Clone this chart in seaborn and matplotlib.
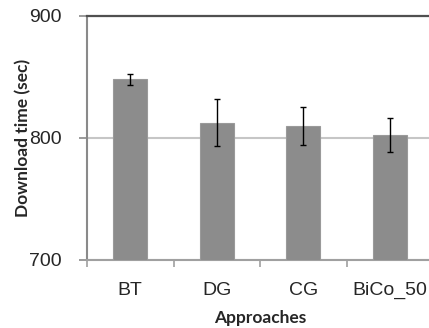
import matplotlib
matplotlib.use("Agg")
import matplotlib.pyplot as plt
import seaborn as sns
import pandas as pd
from matplotlib.ticker import FixedLocator

categories = ["BT", "DG", "CG", "BiCo_50"]
download_time = [848, 812.5, 809.5, 802]
error = [4.7, 19, 15.5, 14]
y_ticks = [700, 800, 900]

sns.set_theme(style="white")
plt.rcParams['font.family'] = ['Liberation Sans', 'DejaVu Sans']

df = pd.DataFrame({"Approach": categories, "Time": download_time})

fig = plt.figure(figsize=(4.29, 3.28), dpi=100)
ax = fig.add_axes([87/429, 1 - 259.7/328, (433.3 - 87)/429, (259.7 - 16)/328])

sns.barplot(data=df, x="Approach", y="Time", color="#8c8c8c", saturation=1,
            width=0.392, edgecolor="#9a9a9a", linewidth=0.8, ax=ax, zorder=3)
ax.errorbar(range(len(categories)), download_time, yerr=error, fmt="none",
            ecolor="black", elinewidth=1.0, capsize=2, capthick=1.0, zorder=4)

ax.set_ylim(700, 900)
ax.set_xlim(-0.5, len(categories) - 0.5)
ax.set_yticks(y_ticks)
ax.yaxis.grid(True, color="#c6c6c6", linewidth=1.5, zorder=0)
ax.set_axisbelow(True)

ax.spines["right"].set_visible(False)
ax.spines["top"].set_color("#505050")
ax.spines["top"].set_linewidth(1.6)
ax.spines["left"].set_color("#8a8a8a")
ax.spines["left"].set_linewidth(1.5)
ax.spines["bottom"].set_color("#a0a0a0")
ax.spines["bottom"].set_linewidth(1.5)

ax.tick_params(axis="y", which="major", direction="out", length=6, width=1.2,
               color="#8a8a8a", labelsize=14, pad=12, left=True)
ax.tick_params(axis="x", which="major", length=0, labelsize=14, pad=16)
ax.xaxis.set_minor_locator(FixedLocator([i - 0.5 for i in range(len(categories) + 1)]))
ax.tick_params(axis="x", which="minor", direction="out", length=5, width=1.2,
               color="#a0a0a0", bottom=True)

ax.set_xlabel("Approaches", family=["Lato", "DejaVu Sans"], fontweight="bold",
              fontsize=12.5, labelpad=8)
ax.set_ylabel("Download time (sec)", family=["Lato", "DejaVu Sans"], fontweight="bold",
              fontsize=12.5)
ax.yaxis.set_label_coords(-0.162, 0.5)

fig.savefig("out.png", dpi=100)
